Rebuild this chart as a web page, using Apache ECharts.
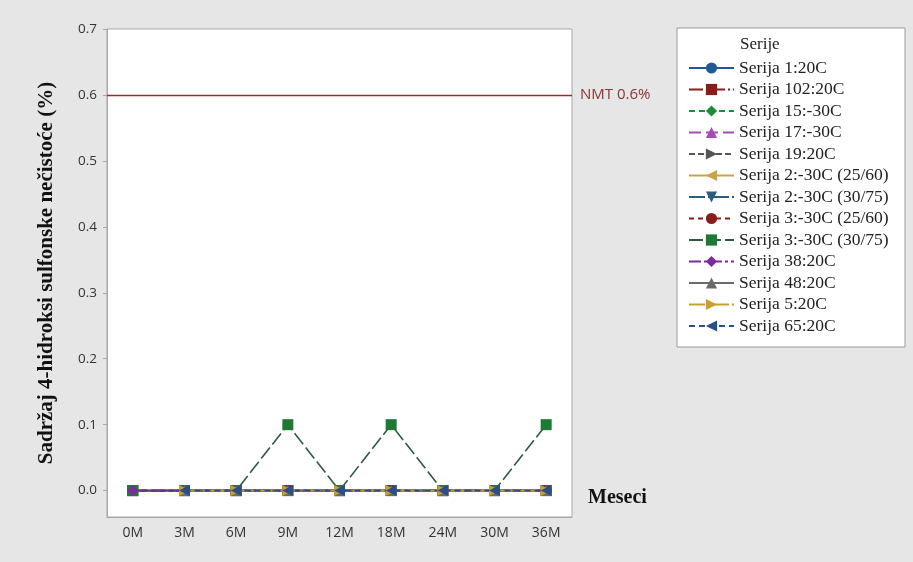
<!DOCTYPE html>
<html>
<head>
    <meta charset="utf-8">
    <title>Sadrzaj 4-hidroksi sulfonske necistoce</title>
    <script src="https://cdn.jsdelivr.net/npm/echarts@6/dist/echarts.min.js"></script>
</head>
<body style="margin:0">
    <div id="c" style="width:913px;height:562px;"></div>
    <script>
    // kategorije (x osa) i oznake y ose
    var meseci = ['0M', '3M', '6M', '9M', '12M', '18M', '24M', '30M', '36M'];
    var yOznake = [0, 0.1, 0.2, 0.3, 0.4, 0.5, 0.6, 0.7];
    var nmt = 0.6;

    // vrednosti po seriji
    var serija1_20 = [0, 0, 0, 0, 0, 0, 0, 0, 0];
    var serija102_20 = [0, 0, 0, 0, 0, 0, 0, 0, 0];
    var serija15_m30 = [0, 0, 0, 0, 0, 0, 0, 0, 0];
    var serija17_m30 = [0, 0, 0, 0, 0, 0, 0, 0, 0];
    var serija19_20 = [0, 0, 0, 0, 0, 0, 0, 0, 0];
    var serija2_2560 = [0, 0, 0, 0, 0, 0, 0, 0, 0];
    var serija2_3075 = [0, 0, 0, 0, 0, 0, 0, 0, 0];
    var serija3_2560 = [0, 0, 0, 0, 0, 0, 0, 0, 0];
    var serija3_3075 = [0, 0, 0, 0.1, 0, 0.1, 0, 0, 0.1];
    var serija38_20 = [0, 0, 0, 0, 0, 0, 0, 0, 0];
    var serija48_20 = [null, 0, 0, 0, 0, 0, 0, 0, 0];
    var serija5_20 = [null, 0, 0, 0, 0, 0, 0, 0, 0];
    var serija65_20 = [null, 0, 0, 0, 0, 0, 0, 0, 0];

    var desno = 'path://M0,0 L10,5 L0,10 Z';
    var levo = 'path://M10,0 L0,5 L10,10 Z';
    var dole = 'path://M0,0 L10,0 L5,10 Z';

    function serija(ime, podaci, boja, simbol, tip, linija) {
        return {
            name: ime,
            type: 'line',
            data: podaci,
            symbol: simbol,
            symbolSize: 11,
            color: boja,
            lineStyle: { color: linija || boja, width: 1.6, type: tip },
            itemStyle: { color: boja },
            z: 3
        };
    }

    var series = [
        serija('Serija 1:20C', serija1_20, '#1f5a96', 'circle', 'solid'),
        serija('Serija 102:20C', serija102_20, '#8b1c1c', 'rect', [14, 3, 2, 3]),
        serija('Serija 15:-30C', serija15_m30, '#1f8c3a', 'diamond', [6, 4]),
        serija('Serija 17:-30C', serija17_m30, '#a44bb8', 'triangle', [12, 5]),
        serija('Serija 19:20C', serija19_20, '#555555', desno, [6, 3]),
        serija('Serija 2:-30C (25/60)', serija2_2560, '#c9a34a', levo, 'solid'),
        serija('Serija 2:-30C (30/75)', serija2_3075, '#2b5d7f', dole, [16, 3, 2, 3]),
        serija('Serija 3:-30C (25/60)', serija3_2560, '#8b1c1c', 'circle', [5, 4]),
        serija('Serija 3:-30C (30/75)', serija3_3075, '#1e7a32', 'rect', [14, 4], '#2f5a40'),
        serija('Serija 38:20C', serija38_20, '#7b2aa0', 'diamond', [12, 3, 3, 3]),
        serija('Serija 48:20C', serija48_20, '#6a6a6a', 'triangle', 'solid'),
        serija('Serija 5:20C', serija5_20, '#c9a030', desno, [16, 3, 2, 3]),
        serija('Serija 65:20C', serija65_20, '#2a4f86', levo, [6, 4])
    ];
    // granica NMT
    series[0].markLine = {
        silent: true,
        symbol: 'none',
        lineStyle: { color: '#a02828', width: 1.3, type: 'solid' },
        label: {
            position: 'end', distance: 8, formatter: 'NMT 0.6%',
            color: '#8a3434', fontFamily: 'Open Sans', fontSize: 15
        },
        data: [{ yAxis: nmt }]
    };

    var myChart = echarts.init(document.getElementById('c'));
    var option = {
        backgroundColor: '#e6e6e6',
        animation: false,
        title: {
            text: 'Serije', left: 735, top: 31,
            textStyle: { fontFamily: 'Liberation Serif', fontWeight: 'normal', fontSize: 17, color: '#222' }
        },
        graphic: [{
            type: 'rect', z: -1,
            shape: { x: 677, y: 28, width: 228, height: 319 },
            style: { fill: '#ffffff', stroke: '#9a9a9a', lineWidth: 1 }
        }],
        legend: {
            orient: 'vertical', left: 683, top: 54,
            itemWidth: 45, itemHeight: 14, itemGap: 3.5,
            textStyle: { fontFamily: 'Liberation Serif', fontSize: 17.5, lineHeight: 16, color: '#222' },
            data: series.map(function (s) { return s.name; })
        },
        grid: {
            left: 107, top: 29, width: 465, height: 488,
            show: true, backgroundColor: '#ffffff', borderColor: '#a8a8a8', borderWidth: 1
        },
        xAxis: {
            type: 'category',
            data: meseci,
            boundaryGap: true,
            name: 'Meseci',
            nameLocation: 'end',
            nameGap: 16,
            nameMoveOverlap: false,
            nameTextStyle: {
                fontFamily: 'Liberation Serif', fontWeight: 'bold', fontSize: 20, color: '#111',
                align: 'left', verticalAlign: 'bottom', padding: [0, 0, 9, 0]
            },
            axisLine: { onZero: false, lineStyle: { color: '#a8a8a8' } },
            axisTick: { alignWithLabel: true, length: 4, lineStyle: { color: '#a8a8a8' } },
            axisLabel: { margin: 9, fontFamily: 'Open Sans', fontSize: 14, color: '#333' }
        },
        yAxis: {
            type: 'value',
            min: -0.04,
            max: 0.7,
            name: 'Sadržaj 4-hidroksi sulfonske nečistoće (%)',
            nameLocation: 'middle',
            nameGap: 50,
            nameTextStyle: { fontFamily: 'Liberation Serif', fontWeight: 'bold', fontSize: 21, color: '#111' },
            splitLine: { show: false },
            axisLine: { show: true, lineStyle: { color: '#a8a8a8' } },
            axisTick: { show: true, length: 4, customValues: yOznake, lineStyle: { color: '#a8a8a8' } },
            axisLabel: {
                customValues: yOznake, margin: 10,
                fontFamily: 'Open Sans', fontSize: 13.5, color: '#333',
                formatter: function (v) { return v.toFixed(1); }
            }
        },
        series: series
    };
    myChart.setOption(option);
    </script>
</body>
</html>
